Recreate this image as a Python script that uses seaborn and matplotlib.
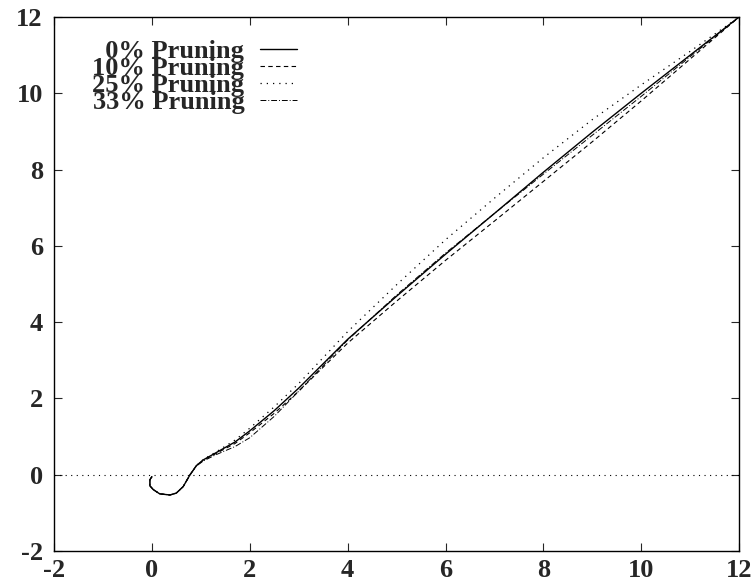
import os
import numpy as np
import pandas as pd
import matplotlib
matplotlib.use("Agg")
import matplotlib.pyplot as plt
from matplotlib import font_manager as fm
import seaborn as sns

# values
x_vals = [0.0, -0.04, -0.04, 0.03, 0.16, 0.37, 0.50, 0.64, 0.78, 0.91, 1.05,
          1.3, 1.7, 2.0, 2.5, 3.0, 4.0, 5.0, 6.0, 7.0, 8.0, 9.0, 10.0, 11.0, 12.0]

y_prune0 = [-0.05, -0.13, -0.29, -0.39, -0.50, -0.53, -0.48, -0.31, 0.0, 0.24, 0.39,
            0.57, 0.86, 1.15, 1.68, 2.27, 3.55, 4.68, 5.78, 6.85, 7.93, 8.98, 10.0, 11.0, 12.0]
y_prune10 = [-0.05, -0.13, -0.29, -0.39, -0.50, -0.53, -0.48, -0.31, 0.0, 0.24, 0.38,
             0.55, 0.82, 1.10, 1.61, 2.19, 3.45, 4.55, 5.62, 6.65, 7.69, 8.73, 9.80, 10.90, 12.0]
y_prune25 = [-0.05, -0.13, -0.29, -0.39, -0.50, -0.53, -0.48, -0.31, 0.0, 0.24, 0.40,
             0.59, 0.91, 1.22, 1.78, 2.39, 3.75, 4.98, 6.16, 7.25, 8.31, 9.31, 10.22, 11.10, 12.0]
y_prune33 = [-0.05, -0.13, -0.29, -0.39, -0.50, -0.53, -0.48, -0.31, 0.0, 0.23, 0.36,
             0.52, 0.74, 0.97, 1.53, 2.19, 3.53, 4.71, 5.81, 6.85, 7.88, 8.90, 9.92, 10.96, 12.0]

labels = ["  0% Pruning", "10% Pruning", "25% Pruning", "33% Pruning"]
series = [y_prune0, y_prune10, y_prune25, y_prune33]
styles = ["-", (0, (4, 3)), (0, (1, 4)), (0, (6, 2, 1, 2))]
widths = [1.0, 0.8, 0.9, 0.7]

ticks = [-2, 0, 2, 4, 6, 8, 10, 12]

# times-like bold serif
serif_name = 'DejaVu Serif'
for path in ["/usr/share/fonts/truetype/liberation/LiberationSerif-Bold.ttf",
             "/usr/share/fonts/truetype/liberation/LiberationSerif-Regular.ttf"]:
    if os.path.exists(path):
        fm.fontManager.addfont(path)
        serif_name = fm.FontProperties(fname=path).get_name()

sns.set_style("ticks")
plt.rcParams['font.family'] = [serif_name, 'DejaVu Serif']
plt.rcParams['font.weight'] = 'bold'
plt.rcParams['axes.unicode_minus'] = False

fig = plt.figure(figsize=(7.55, 5.85), dpi=100)
ax = fig.add_axes([0.0715, 0.058, 0.9075, 0.913])

ax.axhline(0, color='k', lw=0.8, linestyle=(0, (1, 4)))

for lab, yv, ls, lw in zip(labels, series, styles, widths):
    df = pd.DataFrame({"x": x_vals, "y": yv})
    sns.lineplot(data=df, x="x", y="y", sort=False, estimator=None,
                 color='k', linestyle=ls, lw=lw, label=lab, ax=ax)

ax.set_xlim(-2, 12)
ax.set_ylim(-2, 12)
ax.set_xticks(ticks)
ax.set_yticks(ticks)
ax.set_xlabel("")
ax.set_ylabel("")
ax.tick_params(direction='in', length=6, width=0.8, top=True, right=True,
               labelsize=19)
ax.tick_params(axis='x', pad=6)
ax.tick_params(axis='y', pad=8)
for lab in ax.get_xticklabels() + ax.get_yticklabels():
    lab.set_fontweight('bold')
for sp in ax.spines.values():
    sp.set_linewidth(1.0)
    sp.set_color('k')

leg = ax.legend(loc='upper left', bbox_to_anchor=(0.056, 0.957), frameon=False,
                markerfirst=False, fontsize=19, handlelength=1.4,
                handletextpad=0.6, labelspacing=-0.25, borderpad=0,
                borderaxespad=0)
for t in leg.get_texts():
    t.set_fontweight('bold')

fig.savefig("out.png", dpi=100)
